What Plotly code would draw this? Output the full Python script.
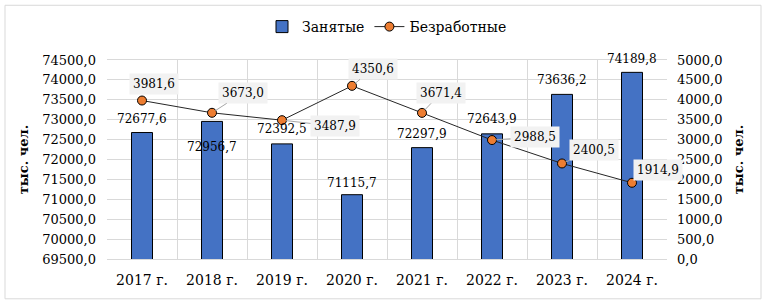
import plotly.graph_objects as go

categories = ["2017 г.", "2018 г.", "2019 г.", "2020 г.", "2021 г.", "2022 г.", "2023 г.", "2024 г."]
employed = [72677.6, 72956.7, 72392.5, 71115.7, 72297.9, 72643.9, 73636.2, 74189.8]
unemployed = [3981.6, 3673.0, 3487.9, 4350.6, 3671.4, 2988.5, 2400.5, 1914.9]
left_ticks = [69500 + 500 * i for i in range(11)]
right_ticks = [500 * i for i in range(11)]

def fmt(v):
    return f"{v:.1f}".replace(".", ",")

FONT = "DejaVu Serif"

fig = go.Figure()
fig.add_trace(go.Bar(
    x=categories, y=employed, name="Занятые",
    marker=dict(color="#4472C4", line=dict(color="#000000", width=1)),
    width=0.3, yaxis="y",
))
fig.add_trace(go.Scatter(
    x=categories, y=unemployed, name="Безработные", mode="lines+markers",
    line=dict(color="#262626", width=1),
    marker=dict(size=9, color="#ED7D31", line=dict(color="#000000", width=1)),
    yaxis="y2",
))

annotations = []
bar_shift = [14, -26, 15, 12, 14, 15, 14, 13]
for c, v, s in zip(categories, employed, bar_shift):
    annotations.append(dict(
        x=c, y=v, xref="x", yref="y", text=fmt(v), showarrow=False,
        yshift=s, font=dict(family=FONT, size=12, color="#000000"),
    ))

offsets = [(12, -17, False), (31, -20, True), (53, 6, True), (21, -17, True),
           (19, -20, True), (43, -3, True), (32, -13, True), (26, -13, False)]
for c, v, (ax, ay, arrow) in zip(categories, unemployed, offsets):
    a = dict(
        x=c, y=v, xref="x", yref="y2", text=fmt(v),
        font=dict(family=FONT, size=12, color="#000000"),
        bgcolor="#F2F2F2", borderpad=3,
    )
    if arrow:
        a.update(showarrow=True, ax=ax, ay=ay, arrowhead=0, arrowwidth=1,
                 arrowcolor="#A6A6A6", standoff=4)
    else:
        a.update(showarrow=False, xshift=ax, yshift=-ay)
    annotations.append(a)

fig.update_layout(
    width=765, height=302,
    margin=dict(l=107, r=98, t=59, b=43),
    paper_bgcolor="#FFFFFF", plot_bgcolor="#FFFFFF",
    font=dict(family=FONT, size=13, color="#000000"),
    showlegend=True,
    legend=dict(orientation="h", x=0.5, xanchor="center", y=1.24, yanchor="top",
                font=dict(family=FONT, size=14), itemwidth=30,
                traceorder="normal"),
    xaxis=dict(
        type="category", tickson="boundaries", showgrid=True, gridcolor="#D9D9D9",
        gridwidth=1, ticks="", tickfont=dict(family=FONT, size=14),
        ticklabelstandoff=8,
        showline=True, linecolor="#D9D9D9", mirror=True, range=[-0.5, 7.5],
    ),
    yaxis=dict(
        range=[69500, 74500], tickvals=left_ticks, ticktext=[fmt(t) for t in left_ticks],
        showgrid=True, gridcolor="#D9D9D9", zeroline=False, ticks="",
        tickfont=dict(family=FONT, size=13), ticklabelstandoff=10,
        title=dict(text="<b>тыс. чел.</b>", font=dict(family=FONT, size=13), standoff=10),
    ),
    yaxis2=dict(
        range=[0, 5000], tickvals=right_ticks, ticktext=[fmt(t) for t in right_ticks],
        overlaying="y", side="right", showgrid=False, zeroline=False, ticks="",
        tickfont=dict(family=FONT, size=13), ticklabelstandoff=9,
        title=dict(text="<b>тыс. чел.</b>", font=dict(family=FONT, size=13), standoff=12),
    ),
    annotations=annotations,
    shapes=[dict(type="rect", xref="paper", yref="paper",
                 x0=(5 - 107) / 560, x1=(761 - 107) / 560,
                 y0=(259 - 299) / 200, y1=(259 - 4) / 200,
                 line=dict(color="#D9D9D9", width=1), fillcolor="rgba(0,0,0,0)",
                 layer="below")],
)

fig.write_html("out.html")
